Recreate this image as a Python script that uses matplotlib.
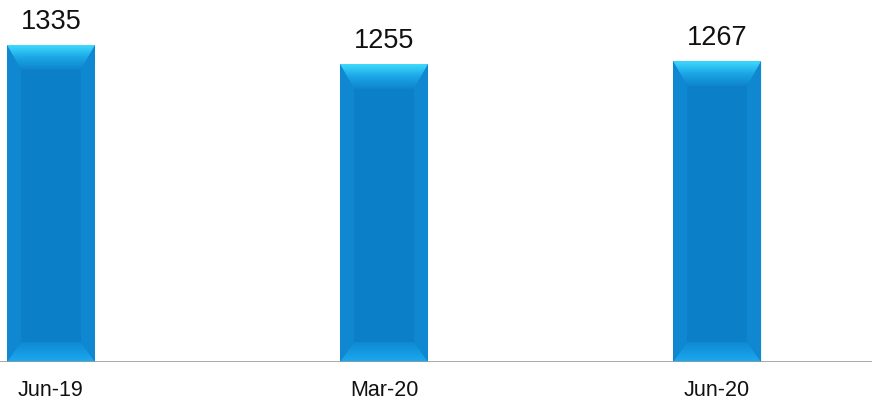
import numpy as np
import matplotlib.pyplot as plt
from matplotlib.patches import Polygon
from matplotlib.colors import LinearSegmentedColormap

periods = ['Jun-19', 'Mar-20', 'Jun-20']
values = [1335, 1255, 1267]

plt.rcParams['font.family'] = ['Liberation Sans', 'DejaVu Sans']

fig = plt.figure(figsize=(8.72, 4.04), dpi=100)
ax = fig.add_axes([0, 0.104, 1, 0.823])
x = np.arange(len(periods))
bar_w = 0.264
bars = ax.bar(x, values, width=bar_w, color='#0b7fc8', zorder=2)

# bevel sizes (data units)
side = 0.042
top_b = 105
bot_b = 84

top_cmap = LinearSegmentedColormap.from_list('tb', ['#0f84cf', '#1aa6e6', '#40dafc'])
bot_cmap = LinearSegmentedColormap.from_list('bb', ['#1aaaf0', '#1089d3'])
grad = np.linspace(0, 1, 100).reshape(-1, 1)

for b, v in zip(bars, values):
    x0 = b.get_x()
    x1 = x0 + b.get_width()
    # sides
    for a, c in ((x0, x0 + side), (x1, x1 - side)):
        ax.add_patch(Polygon([(a, 0), (c, bot_b), (c, v - top_b), (a, v)],
                             closed=True, color='#1087d1', lw=0, zorder=3))
    # top bevel with gradient
    tp = Polygon([(x0, v), (x1, v), (x1 - side, v - top_b), (x0 + side, v - top_b)],
                 closed=True, lw=0, facecolor='none', zorder=4)
    ax.add_patch(tp)
    im = ax.imshow(grad, extent=[x0, x1, v - top_b, v], origin='lower', aspect='auto',
                   cmap=top_cmap, zorder=4)
    im.set_clip_path(tp)
    # bottom bevel gradient
    bp = Polygon([(x0, 0), (x1, 0), (x1 - side, bot_b), (x0 + side, bot_b)],
                 closed=True, lw=0, facecolor='none', zorder=4)
    ax.add_patch(bp)
    im2 = ax.imshow(grad, extent=[x0, x1, 0, bot_b], origin='lower', aspect='auto',
                    cmap=bot_cmap, zorder=4)
    im2.set_clip_path(bp)
    ax.text(b.get_x() + b.get_width() / 2, v + 68, str(v), ha='center', va='baseline',
            fontsize=19.5, color='#111111')

ax.set_xlim(-0.153, 2.465)
ax.set_ylim(0, 1400)
ax.axhline(0, color='#999999', lw=1.2, zorder=5)
for s in ax.spines.values():
    s.set_visible(False)
ax.set_yticks([])
ax.set_xticks(x)
ax.set_xticklabels(periods, fontsize=15.5, color='#111111')
ax.tick_params(axis='x', length=0, pad=13)

fig.savefig('out.png', dpi=100)
